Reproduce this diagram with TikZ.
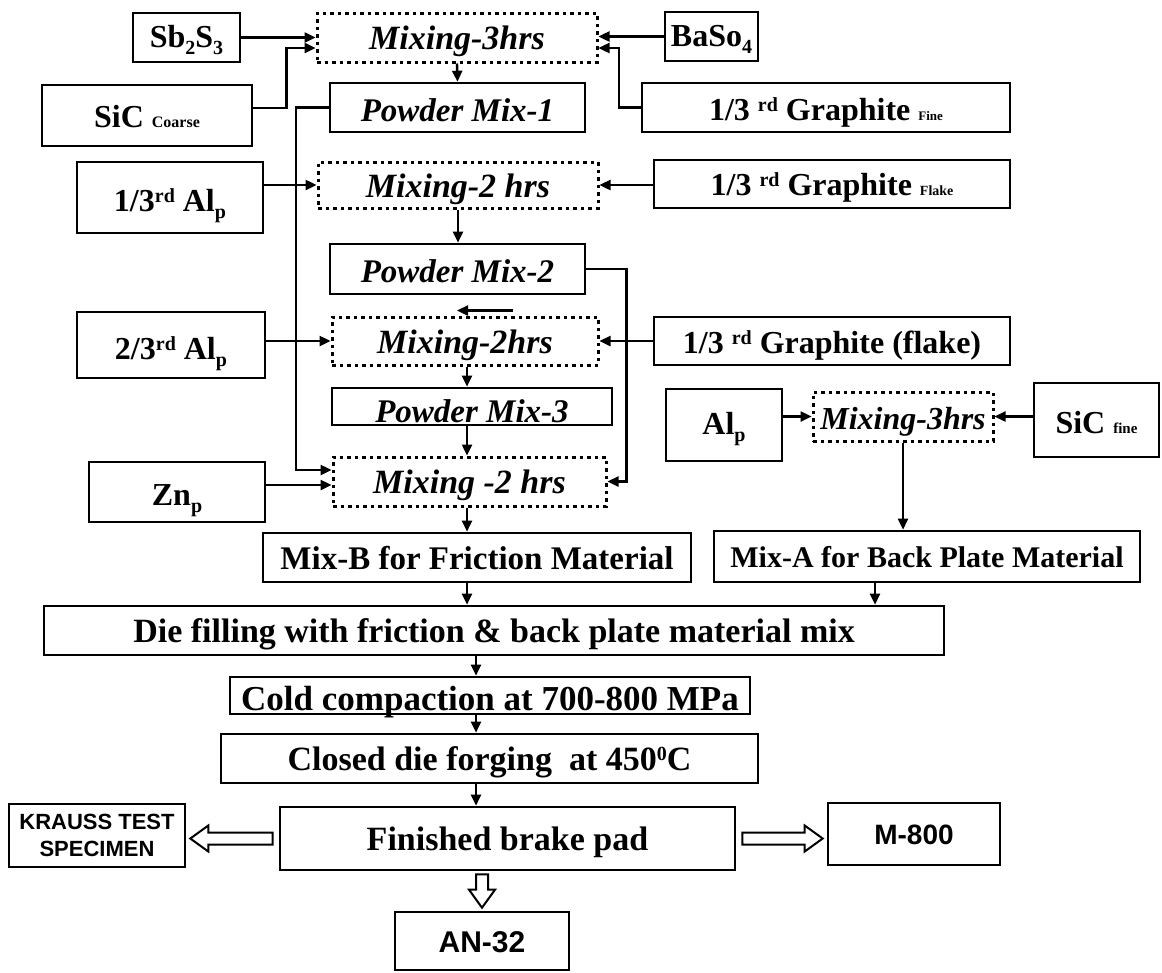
\documentclass[tikz,border=0pt]{standalone}
\usepackage{fontspec}
\setmainfont{Liberation Serif}
\newfontfamily\sansf{Liberation Sans}
\usetikzlibrary{arrows.meta,calc}
\newcommand{\fs}[1]{\fontsize{#1}{#1}\selectfont}
\newcommand{\mysub}[1]{\raisebox{-0.22em}{\fs{20}#1}}
\newcommand{\mysup}[1]{\raisebox{0.28em}{\fs{20}#1}}
\newcommand{\bl}[2]{\raisebox{-#1pt}[0pt][0pt]{#2}}
\tikzset{
  box/.style={draw, line width=2.6pt, inner sep=0pt, align=center, font=\bfseries},
  ibox/.style={box, font=\bfseries\itshape},
  dbox/.style={ibox, dash pattern=on 3.5pt off 4pt, line width=3pt},
  arr/.style={line width=2.4pt, -{Triangle[length=11pt,width=10pt]}},
  hol/.style={draw, line width=2pt, fill=white, line join=miter}
}
\begin{document}
\begin{tikzpicture}[x=1pt,y=-1pt]
\useasboundingbox (0,0) rectangle (1162,972);
% input materials
\node[box, minimum width=107, minimum height=49] (sb) at (186.5,37.5) {\fs{32}\bl{10}{Sb\mysub{2}S\mysub{3}}};
\node[box, minimum width=93, minimum height=49] (bas) at (711.5,36.5) {\fs{32}\bl{10}{BaSo\mysub{4}}};
\node[box, minimum width=210, minimum height=61] (sic) at (147,115.5) {\fs{32}\bl{12}{SiC {\fs{16}Coarse}}};
\node[box, minimum width=368, minimum height=49] (gf) at (826,107.5) {\fs{32}\bl{13}{1/3 \mysup{rd} Graphite {\fs{13}Fine}}};
\node[box, minimum width=186, minimum height=71] (alp1) at (170,197.5) {\fs{32}\bl{14}{1/3\mysup{rd} Al\mysub{p}}};
\node[box, minimum width=356, minimum height=48] (gfl) at (832,184) {\fs{32}\bl{11}{1/3 \mysup{rd} Graphite {\fs{14}Flake}}};
\node[box, minimum width=188, minimum height=66] (alp2) at (171,345) {\fs{32}\bl{14}{2/3\mysup{rd} Al\mysub{p}}};
\node[box, minimum width=356, minimum height=48] (gfk) at (832,341) {\fs{32}\bl{12}{1/3 \mysup{rd} Graphite (flake)}};
\node[box, minimum width=116, minimum height=72] (alpR) at (724,425) {\fs{32}\bl{9}{Al\mysub{p}}};
\node[box, minimum width=125, minimum height=74] (sicf) at (1096.5,420) {\fs{32}\bl{13}{SiC {\fs{15}fine}}};
\node[box, minimum width=176, minimum height=60] (zn) at (177,492) {\fs{32}\bl{13}{Zn\mysub{p}}};
% mixing stages
\node[dbox, minimum width=280, minimum height=49] (mixA) at (457,37.5) {\fs{34}\bl{11.5}{Mixing-3hrs}};
\node[ibox, minimum width=255, minimum height=49] (pm1) at (457.5,107.5) {\fs{33}\bl{14}{Powder Mix-1}};
\node[dbox, minimum width=280, minimum height=46] (mixB) at (458,185) {\fs{34}\bl{12}{Mixing-2 hrs}};
\node[ibox, minimum width=255, minimum height=50] (pm2) at (457.5,269) {\fs{33}\bl{13}{Powder Mix-2}};
\node[dbox, minimum width=266, minimum height=48] (mixC) at (465,341) {\fs{34}\bl{12.5}{Mixing-2hrs}};
\node[ibox, minimum width=280, minimum height=37] (pm3) at (472,406.5) {\fs{33}\bl{15.5}{Powder Mix-3}};
\node[dbox, minimum width=273, minimum height=49] (mixD) at (469.5,481.5) {\fs{34}\bl{11.5}{Mixing -2 hrs}};
\node[dbox, minimum width=180, minimum height=49] (mixR) at (903,416.5) {\fs{32}\bl{12.5}{Mixing-3hrs}};
% process steps
\node[box, minimum width=428, minimum height=49] (mixb) at (477,557.5) {\fs{33}\bl{12}{Mix-B for Friction Material}};
\node[box, minimum width=426, minimum height=51] (mixa) at (927,556.5) {\fs{30}\bl{11}{Mix-A for Back Plate Material}};
\node[box, minimum width=900, minimum height=49] (die) at (494,630.5) {\fs{34}\bl{12}{Die filling with friction \& back plate material mix}};
\node[box, minimum width=520, minimum height=37] (cold) at (490,695.5) {\fs{35}\bl{15}{Cold compaction at 700-800 MPa}};
\node[box, minimum width=537, minimum height=49] (closed) at (489.5,758.5) {\fs{34}\bl{12}{Closed die forging\ \ at 450\mysup{0}C}};
\node[box, minimum width=455, minimum height=63] (fin) at (507.5,838.5) {\fs{34}\bl{12}{Finished brake pad}};
\node[box, minimum width=176, minimum height=63, font=\sansf\bfseries\fontsize{22}{27}\selectfont] (kr) at (97,835.5) {KRAUSS TEST\\SPECIMEN};
\node[box, minimum width=172, minimum height=62, font=\sansf\bfseries\fontsize{28}{30}\selectfont] (m8) at (914,834) {\bl{10}{M-800}};
\node[box, minimum width=174, minimum height=58, font=\sansf\bfseries\fontsize{30}{32}\selectfont] (an) at (482,941) {\bl{11}{AN-32}};
% helper coordinates
\coordinate (spine) at (467,0);
\coordinate (spine3) at (476,0);
\coordinate (znout) at ($(zn.east)+(0,-7)$);
\coordinate (aout) at ($(mixa.south)+(-52,0)$);
\coordinate (stub) at ($(mixC.north)+(48,-5)$);
\coordinate (stubtip) at ($(mixC.north)+(-8,-5)$);
% connectors
\draw[arr] (sb.east) -- (sb.east -| mixA.west);
\draw[arr] ($(sic.east)+(0,-7.5)$) -- ++(33,0) |- ($(mixA.west)+(0,10.5)$);
\draw[arr] (bas.west) -- (bas.west -| mixA.east);
\draw[arr] (gf.west) -- ++(-22,0) |- ($(mixA.east)+(0,10.5)$);
\draw[arr] (mixA.south) -- (pm1.north);
\draw[arr] (pm1.west) -- ++(-33,0) |- ($(mixD.west)+(0,-11.5)$);
\draw[arr] (alp1.east |- mixB.west) -- (mixB.west);
\draw[arr] (gfl.west |- mixB.east) -- (mixB.east);
\draw[arr] (mixB.south) -- (mixB.south |- pm2.north);
\draw[arr] (pm2.east) -- ++(40,0) |- (mixD.east);
\draw[arr] (alp2.east |- mixC.west) -- (mixC.west);
\draw[arr] (gfk.west |- mixC.east) -- (mixC.east);
\draw[arr] (stub) -- (stubtip);
\draw[arr] (spine |- mixC.south) -- (spine |- pm3.north);
\draw[arr] (spine |- pm3.south) -- (spine |- mixD.north);
\draw[arr] (znout) -- (znout -| mixD.west);
\draw[arr] (spine |- mixD.south) -- (spine |- mixb.north);
\draw[arr] (alpR.east |- mixR.west) -- (mixR.west);
\draw[arr] (sicf.west |- mixR.east) -- (mixR.east);
\draw[arr] (mixR.south) -- (mixR.south |- mixa.north);
\draw[arr] (aout) -- (aout |- die.north);
\draw[arr] (spine |- mixb.south) -- (spine |- die.north);
\draw[arr] (spine3 |- die.south) -- (spine3 |- cold.north);
\draw[arr] (spine3 |- cold.south) -- (spine3 |- closed.north);
\draw[arr] (spine3 |- closed.south) -- (spine3 |- fin.north);
% hollow arrows
\draw[hol] let \p1=($(fin.west)+(-6,0)$), \p2=($(kr.east)+(4,0)$) in
  (\x1,\y1+6pt) -- (\x2+18pt,\y1+6pt) -- (\x2+18pt,\y1+13pt) -- (\x2,\y1)
  -- (\x2+18pt,\y1-13pt) -- (\x2+18pt,\y1-6pt) -- (\x1,\y1-6pt) -- cycle;
\draw[hol] let \p1=($(fin.east)+(6,0)$), \p2=($(m8.west)+(-4,0)$) in
  (\x1,\y1+6pt) -- (\x2-18pt,\y1+6pt) -- (\x2-18pt,\y1+13pt) -- (\x2,\y1)
  -- (\x2-18pt,\y1-13pt) -- (\x2-18pt,\y1-6pt) -- (\x1,\y1-6pt) -- cycle;
\draw[hol] let \p1=($(fin.south)+(0,3)$), \p2=($(an.north)+(0,-3)$) in
  (\x2-6pt,\y1) -- (\x2-6pt,\y2+18pt) -- (\x2-13pt,\y2+18pt) -- (\x2,\y2)
  -- (\x2+13pt,\y2+18pt) -- (\x2+6pt,\y2+18pt) -- (\x2+6pt,\y1) -- cycle;
\end{tikzpicture}
\end{document}
